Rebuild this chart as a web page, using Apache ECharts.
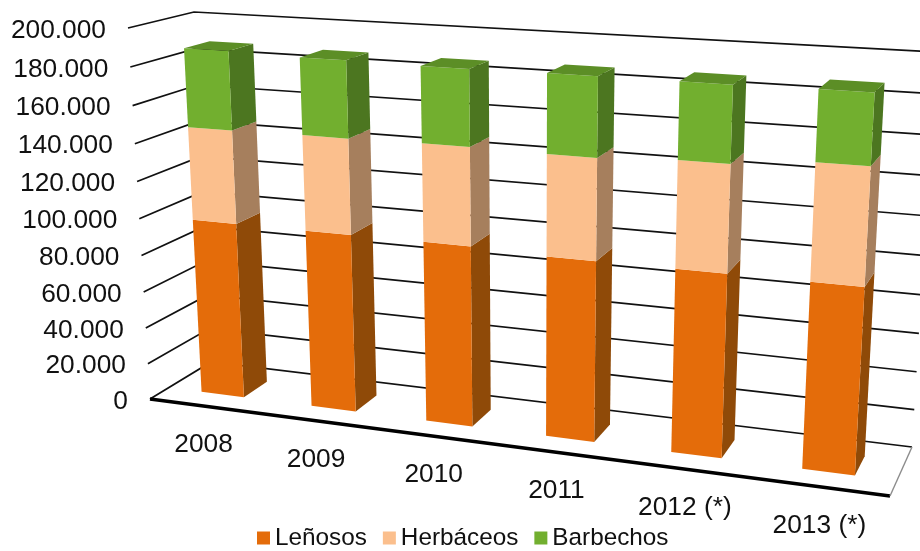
<!DOCTYPE html>
<html>
<head>
<meta charset="utf-8">
<style>
  html, body { margin: 0; padding: 0; background: #fff; }
  #chart { width: 920px; height: 551px; }
</style>
<script src="https://cdn.jsdelivr.net/npm/echarts@6/dist/echarts.min.js"></script>
</head>
<body>
<div id="chart"></div>
<script>
const categories = ['2008', '2009', '2010', '2011', '2012 (*)', '2013 (*)'];
const lenosos = [96500, 96500, 96500, 95000, 95000, 95000];
const herbaceos = [50000, 50500, 51000, 52000, 54000, 58000];
const barbechos = [41500, 40000, 39000, 40000, 38000, 34500];
const tickValues = [0, 20000, 40000, 60000, 80000, 100000, 120000, 140000, 160000, 180000, 200000];
const tickLabels = ['0', '20.000', '40.000', '60.000', '80.000', '100.000', '120.000', '140.000', '160.000', '180.000', '200.000'];

const FONT = '26.3px "Liberation Sans", Arial, sans-serif';

// corners of the 3D box on screen: (0,0) (1,0) (1,1) (0,1)
const frontQuad = [[150, 399], [890, 496], [914, 75], [128, 28]];
const backQuad = [[211, 362], [912, 447], [936, 52], [194, 12]];
const BAR_Z0 = 0.31;
const BAR_Z1 = 0.71;
const BAR_WIDTH = 0.39;

function squareToQuad(q) {
  const [x0, y0] = q[0], [x1, y1] = q[1], [x2, y2] = q[2], [x3, y3] = q[3];
  const dx1 = x1 - x2, dx2 = x3 - x2, sx = x0 - x1 + x2 - x3;
  const dy1 = y1 - y2, dy2 = y3 - y2, sy = y0 - y1 + y2 - y3;
  const den = dx1 * dy2 - dx2 * dy1;
  const g = (sx * dy2 - dx2 * sy) / den;
  const h = (dx1 * sy - sx * dy1) / den;
  const a = x1 - x0 + g * x1, b = x3 - x0 + h * x3;
  const d = y1 - y0 + g * y1, e = y3 - y0 + h * y3;
  return (u, v) => {
    const w = g * u + h * v + 1;
    return [(a * u + b * v + x0) / w, (d * u + e * v + y0) / w];
  };
}
const frontPlane = squareToQuad(frontQuad);
const backPlane = squareToQuad(backQuad);

function project(u, v, z) {
  const f = frontPlane(u, v), b = backPlane(u, v);
  return [f[0] + (b[0] - f[0]) * z, f[1] + (b[1] - f[1]) * z];
}

// flat grid position from the axes -> unit cube coordinates
function toUnit(params, pt) {
  const cs = params.coordSys;
  return [(pt[0] - cs.x) / cs.width, 1 - (pt[1] - cs.y) / cs.height];
}

function line(points, width, color) {
  return { type: 'polyline', shape: { points }, style: { stroke: color || '#111', lineWidth: width, fill: null } };
}
function face(points, fill) {
  return { type: 'polygon', shape: { points }, style: { fill } };
}
function label(text, x, y, align) {
  return { type: 'text', style: { text, x, y, font: FONT, fill: '#111', align, verticalAlign: 'middle', textAlign: align, textVerticalAlign: 'middle' } };
}

function renderTick(params, api) {
  const i = api.value(0);
  const v = toUnit(params, api.coord([0, tickValues[i]]))[1];
  const p0 = project(0, v, 0);
  const children = [line([p0, project(0, v, 1), project(1, v, 1)], 1.7)];
  children.push(label(tickLabels[i], p0[0] - 22, p0[1] + 2.5, 'right'));
  if (i === 0) {
    children.push(line([project(0, 0, 0), project(1, 0, 0)], 3.6, '#000'));
    children.push(line([project(1, 0, 0), project(1, 0, 1)], 1.4, '#8c8c8c'));
  }
  return { type: 'group', children };
}

function renderCategory(params, api) {
  const i = api.value(0);
  const u = toUnit(params, api.coord([i, 0]))[0];
  const p = project(u, 0, 0);
  return label(categories[i], p[0] - 1, p[1] + 38.5, 'center');
}

function barRenderer(colors, showTop) {
  return function (params, api) {
    const i = api.value(0);
    const c0 = toUnit(params, api.coord([i, api.value(1)]));
    const c1 = toUnit(params, api.coord([i, api.value(2)]));
    const half = api.size([1, 0])[0] / params.coordSys.width * BAR_WIDTH / 2;
    const u0 = c0[0] - half, u1 = c0[0] + half;
    const v0 = c0[1], v1 = c1[1];
    const children = [
      face([project(u1, v0, BAR_Z0), project(u1, v0, BAR_Z1), project(u1, v1, BAR_Z1), project(u1, v1, BAR_Z0)], colors.side),
      face([project(u0, v0, BAR_Z0), project(u1, v0, BAR_Z0), project(u1, v1, BAR_Z0), project(u0, v1, BAR_Z0)], colors.front)
    ];
    if (showTop) {
      children.push(face([project(u0, v1, BAR_Z0), project(u1, v1, BAR_Z0), project(u1, v1, BAR_Z1), project(u0, v1, BAR_Z1)], colors.top));
    }
    return { type: 'group', children };
  };
}

function stackRows(values, below) {
  return values.map((val, i) => {
    const base = below.reduce((sum, arr) => sum + arr[i], 0);
    return [i, base, base + val];
  });
}

const myChart = echarts.init(document.getElementById('chart'), null, { renderer: 'canvas' });

myChart.setOption({
  animation: false,
  backgroundColor: '#fff',
  grid: { left: 0, top: 0, width: 600, height: 400, show: false },
  xAxis: { type: 'category', data: categories, show: false },
  yAxis: { type: 'value', min: 0, max: 200000, interval: 20000, show: false },
  legend: {
    data: ['Leñosos', 'Herbáceos', 'Barbechos'],
    left: 257,
    top: 526,
    padding: 0,
    itemWidth: 13,
    itemHeight: 13,
    itemGap: 16,
    icon: 'rect',
    selectedMode: false,
    textStyle: { fontSize: 24.3, fontFamily: '"Liberation Sans", Arial, sans-serif', color: '#111', padding: [0, 0, 0, 0] }
  },
  series: [
    {
      type: 'custom', name: 'ticks', z: 1, silent: true,
      data: tickValues.map((t, i) => [i]),
      renderItem: renderTick
    },
    {
      type: 'custom', name: 'categorias', z: 1, silent: true,
      data: categories.map((c, i) => [i]),
      renderItem: renderCategory
    },
    {
      type: 'custom', name: 'Leñosos', z: 2,
      itemStyle: { color: '#E46C0A' },
      data: stackRows(lenosos, []),
      renderItem: barRenderer({ front: '#E46C0A', side: '#8F4A08' }, false)
    },
    {
      type: 'custom', name: 'Herbáceos', z: 3,
      itemStyle: { color: '#FBBF8D' },
      data: stackRows(herbaceos, [lenosos]),
      renderItem: barRenderer({ front: '#FBBF8D', side: '#A67F5D' }, false)
    },
    {
      type: 'custom', name: 'Barbechos', z: 4,
      itemStyle: { color: '#72AF2F' },
      data: stackRows(barbechos, [lenosos, herbaceos]),
      renderItem: barRenderer({ front: '#72AF2F', side: '#4C7620', top: '#5C8E26' }, true)
    }
  ]
});
</script>
</body>
</html>
